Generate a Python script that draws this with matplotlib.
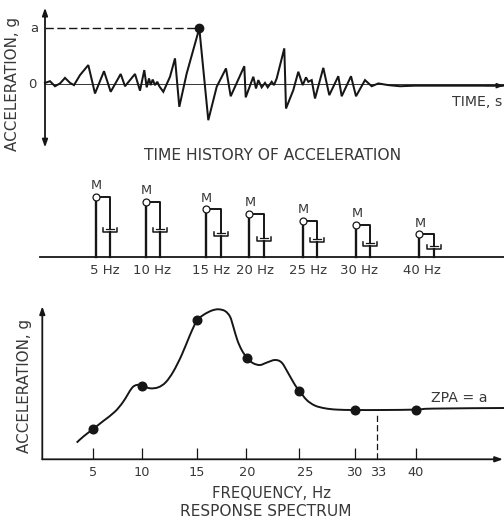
import numpy as np
import matplotlib
matplotlib.use('Agg')
import matplotlib.pyplot as plt
from matplotlib.path import Path
from matplotlib.patches import PathPatch

W, H = 504, 523
plt.rcParams['font.family'] = ['DejaVu Sans']
INK = '#161616'
TEXT = '#383838'

# time history, time in sketch units, acceleration as fraction of peak a
time = [0, 5, 10, 15, 20, 25, 29, 35, 43.3, 50, 59, 65.7, 75.7, 80, 90, 95, 99.3, 101.7, 104, 105.7, 107.7, 110,
        112.3, 114.3, 118.3, 125, 130, 134.3, 141.7, 154.3, 163.3, 171.7, 181, 185.7, 199.3, 200.7,
        208.3, 211, 213.3, 216.7, 220, 222.7, 226.7, 229, 231.7, 239.3, 241, 248.3, 253.3, 257.7, 261, 263.3,
        266.7, 270, 278.3, 284.3, 293.3, 296.7, 306, 311, 320, 326.7, 333.3, 343.3, 355, 370, 459]
accel = [.02, .05, -.04, .01, .11, .02, -.02, .16, .34, -.17, .23, -.14, .18, -.04, .18, -.12, .25, -.06, .10, -.02, .08, -.02,
         .04, -.04, -.14, .13, .46, -.41, .19, 1.0, -.65, -.05, .28, -.22, .32, -.24,
         .13, -.08, .07, -.06, .02, -.06, .04, -.02, .10, .64, -.44, -.11, .22, -.02, .12, .04,
         .07, -.26, .29, -.20, .14, -.22, .14, -.22, .07, -.04, .01, -.02, -.04, -.03, -.03]
peak_time = 154.3

# oscillators
osc_labels = ['5 Hz', '10 Hz', '15 Hz', '20 Hz', '25 Hz', '30 Hz', '40 Hz']
osc_label_x = [105, 152, 211, 255, 308, 359, 422]
osc_x = [95.7, 145.7, 205.7, 249.3, 302.7, 356, 419.3]
osc_damper_x = [110, 160, 220.7, 264.3, 316.7, 370, 434]
osc_height = [60.7, 55.7, 48, 43.3, 36.7, 32.3, 23]
osc_damper = [27, 27, 23, 18, 17, 13, 10]

# response spectrum
spec_x = [76.7, 83.3, 92.7, 103.3, 115, 123.3, 131.7, 136.7, 142.3, 150, 158.3, 165.7, 173.3, 181.7, 190,
          196.7, 203.3, 211.7, 218.3, 225, 230, 233.3, 237.3, 241.7, 247.3, 253.3, 260, 266.7, 275, 281.7,
          288.3, 295, 299.3, 306.7, 315, 325, 336.7, 355, 383.3, 415.7, 433.3, 504]
spec_y = [16.7, 22.7, 30, 38.3, 47.7, 57.7, 71, 74.3, 73.7, 71, 72, 77, 87.7, 104.3, 124.3,
          138.3, 144.3, 148.7, 150, 148.3, 142.7, 132.7, 119.3, 109.3, 101, 96, 94.3, 96.7, 99.3, 96.7,
          86, 74.3, 68.7, 59.3, 53.7, 51, 49.7, 49.3, 49.3, 49.7, 50.7, 51.3]
point_x = [92.7, 142.3, 197, 247.3, 299.3, 355, 415.7]
point_y = [30, 73.7, 139, 101, 68.7, 49.3, 49.7]
tick_x = [92.7, 142.3, 196.5, 246, 299.3, 355, 415.7]
tick_labels = ['5', '10', '15', '20', '25', '30', '33', '40']
tick_label_x = [92.7, 142.3, 197, 247, 305, 354, 378, 416]
zpa_x = 376.7

fig = plt.figure(figsize=(W / 100, H / 100), dpi=100, facecolor='white')


def band(top, bottom):
    ax = fig.add_axes([0, 1 - bottom / H, 1, (bottom - top) / H])
    ax.axis('off')
    return ax


def label(x, y, s, size=10.7, **kw):
    kw.setdefault('ha', 'center')
    fig.text(x / W, 1 - y / H, s, fontsize=size, color=TEXT, va='center', **kw)


def arrow(ax, start, end, lw=1.3):
    ax.annotate('', xy=end, xytext=start, annotation_clip=False,
                arrowprops=dict(arrowstyle='-|>,head_length=0.45,head_width=0.16', lw=lw, color=INK,
                                shrinkA=0, shrinkB=0))


def smooth_path(xs, ys):
    # bezier through the read points so the sketch curve has no corners
    pts = np.column_stack([xs, ys])
    verts = [pts[0]]
    codes = [Path.MOVETO]
    for i in range(len(pts) - 1):
        p0 = pts[max(i - 1, 0)]
        p1 = pts[i]
        p2 = pts[i + 1]
        p3 = pts[min(i + 2, len(pts) - 1)]
        verts += [p1 + (p2 - p0) / 6, p2 - (p3 - p1) / 6, p2]
        codes += [Path.CURVE4] * 3
    return Path(verts, codes)


# top panel
ax1 = band(0, 160)
ax1.set_xlim(-45, 459)
ax1.set_ylim((84 - 160) / 55.67, 84 / 55.67)
ax1.plot(time, accel, color=INK, lw=1.45, solid_joinstyle='miter')
ax1.plot([0, 459], [0, 0], color=INK, lw=0.6)
ax1.plot([0, peak_time], [1, 1], color=INK, lw=1.0, dashes=(6, 2.5))
ax1.plot([peak_time], [1], 'o', color=INK, ms=6)
arrow(ax1, (0, 0), (0, 1.37))
arrow(ax1, (0, 0), (0, -1.14))
arrow(ax1, (440, -0.03), (459, -0.03), lw=0.8)

# middle panel
ax2 = band(160, 290)
ax2.set_xlim(0, W)
ax2.set_ylim(-32.7, 97.3)
ax2.plot([40, 504], [0, 0], color=INK, lw=1.3)
for x, dx, h, d in zip(osc_x, osc_damper_x, osc_height, osc_damper):
    ax2.plot([x, x], [0, h], color=INK, lw=1.7)
    ax2.plot([x, dx, dx], [h, h, d + 1], color=INK, lw=1.4)
    ax2.plot([dx, dx], [0, d - 2], color=INK, lw=1.6)
    ax2.plot([dx - 7, dx - 7, dx + 7, dx + 7], [d + 2.5, d - 2, d - 2, d + 2.5], color=INK, lw=1.1)
    ax2.plot([dx - 4, dx + 4], [d + 1, d + 1], color=INK, lw=0.9)
    ax2.plot([x], [h], 'o', mfc='white', mec=INK, ms=5, mew=0.9, zorder=3)
    ax2.text(x + 1, h + 11, 'M', fontsize=9.3, color=TEXT, ha='center', va='center')
for x, s in zip(osc_label_x, osc_labels):
    label(x, 271, s, size=9.5)

# bottom panel
ax3 = band(290, 523)
ax3.set_xlim(0, W)
ax3.set_ylim(-63.7, 169.3)
ax3.add_patch(PathPatch(smooth_path(spec_x, spec_y), fc='none', ec=INK, lw=1.4))
ax3.plot(point_x, point_y, 'o', color=INK, ms=6.2)
ax3.vlines(tick_x, 0, 11, color=INK, lw=0.9)
ax3.plot([zpa_x, zpa_x], [0, 44], color=INK, lw=0.9, dashes=(5, 2.5))
arrow(ax3, (42.3, 0), (42.3, 153))
arrow(ax3, (42.3, 0), (503, 0))
for x, s in zip(tick_label_x, tick_labels):
    label(x, 473, s, size=9.3)

label(12.5, 84, 'ACCELERATION, g', size=10.9, rotation=90)
label(34, 29, 'a', size=9.5)
label(32, 84, '0', size=9.5)
label(452, 102, 'TIME, s', size=10.2, ha='left')
label(273, 156, 'TIME HISTORY OF ACCELERATION', size=11.2)
label(25, 386, 'ACCELERATION, g', size=10.9, rotation=90)
label(459, 398, 'ZPA = a', size=10.2)
label(272, 494, 'FREQUENCY, Hz')
label(266, 511, 'RESPONSE SPECTRUM', size=11.1)

fig.savefig('out.png', dpi=100)
